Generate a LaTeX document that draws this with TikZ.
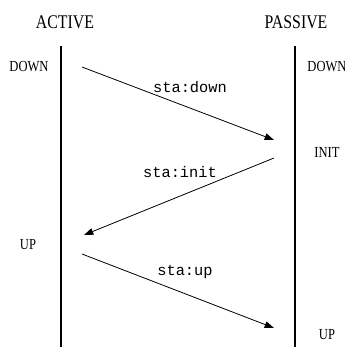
\documentclass[tikz,border=0pt]{standalone}
\usepackage{fontspec}
\setmainfont{Liberation Serif}
\setmonofont{Liberation Mono}
\newfontfamily\narrowserif[FakeStretch=0.82]{Liberation Serif}
\usetikzlibrary{arrows.meta,positioning}
\tikzset{
  lifeline/.style={line width=2.2pt, draw=black},
  msg/.style={-{Triangle[length=7pt,width=5pt]}, line width=0.6pt, draw=black},
  party/.style={font=\narrowserif\fontsize{14.5}{16}\selectfont, inner sep=0pt},
  state/.style={font=\narrowserif\fontsize{11.5}{13}\selectfont, inner sep=0pt},
  msglabel/.style={font=\ttfamily\fontsize{11.5}{13}\selectfont, inner sep=0pt},
}
\begin{document}
\begin{tikzpicture}[x=0.75pt,y=-0.75pt]
    \useasboundingbox (0,0) rectangle (345,347);
    % parties and lifelines
    \node[party] (active) at (65,22) {ACTIVE};
    \node[party] (passive) at (296,22) {PASSIVE};
    \coordinate (atop) at (61,46);
    \coordinate (abot) at (61,347);
    \coordinate (ptop) at (295,46);
    \coordinate (pbot) at (295,347);
    \draw[lifeline] (atop) -- (abot);
    \draw[lifeline] (ptop) -- (pbot);
    % states
    \node[state] (adown) at (29,67) {DOWN};
    \node[state] (pdown) at (327,67) {DOWN};
    \node[state] (pinit) at (327,152) {INIT};
    \node[state] (aup) at (28,245) {UP};
    \node[state] (pup) at (327,335) {UP};
    % messages
    \coordinate (m1s) at (82,67);
    \coordinate (m1e) at (274,140);
    \coordinate (m2s) at (274,158);
    \coordinate (m2e) at (84,235);
    \coordinate (m3s) at (82,254);
    \coordinate (m3e) at (274,328);
    \draw[msg] (m1s) -- (m1e);
    \draw[msg] (m2s) -- (m2e);
    \draw[msg] (m3s) -- (m3e);
    \node[msglabel] (l1) at (190,87) {sta:down};
    \node[msglabel] (l2) at (180,172) {sta:init};
    \node[msglabel] (l3) at (185,272) {sta:up};
\end{tikzpicture}
\end{document}
